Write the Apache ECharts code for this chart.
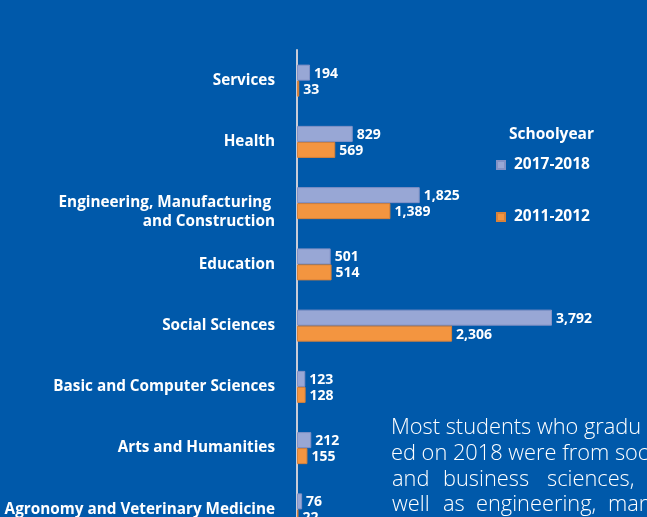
<!DOCTYPE html>
<html>
<head>
<meta charset="utf-8">
<script src="https://cdn.jsdelivr.net/npm/echarts@6/dist/echarts.min.js"></script>
<style>
html,body{margin:0;padding:0;background:#0059aa;}
#c{width:647px;height:517px;}
</style>
</head>
<body>
<div id="c"></div>
<script>
var categories = ['Services', 'Health', 'Engineering, Manufacturing \nand Construction', 'Education', 'Social Sciences', 'Basic and Computer Sciences', 'Arts and Humanities', 'Agronomy and Veterinary Medicine'];
var seriesNames = ['2017-2018', '2011-2012'];
var values2018 = [194, 829, 1825, 501, 3792, 123, 212, 76];
var values2012 = [33, 569, 1389, 514, 2306, 128, 155, 22];
var legendTitle = 'Schoolyear';
var noteLines = [
  [['Most students who gradu', 391]],
  [['ed on 2018 were from soc', 391]],
  [['and', 392], ['business', 443], ['sciences,', 547], ['as', 658]],
  [['well', 392], ['as', 443], ['engineering,', 476], ['man', 608]]
];

var FONT = '"Open Sans", "Noto Sans", sans-serif';
var chart = echarts.init(document.getElementById('c'), null, {renderer: 'canvas'});

function fmt(p) { return Number(p.value).toLocaleString('en-US'); }

var labelStyle = {
  show: true, position: 'right', distance: 4, color: '#ffffff',
  fontFamily: FONT, fontWeight: 'bold', fontSize: 14, formatter: fmt, offset: [0, 1]
};

var graphics = [
  {type: 'text', left: 509, top: 127, style: {text: legendTitle, fill: '#ffffff', font: 'bold 15.5px ' + FONT}}
];
noteLines.forEach(function (line, i) {
  line.forEach(function (w) {
    graphics.push({type: 'text', x: w[1], y: 417 + i * 25.7,
      style: {text: w[0], fill: '#ffffff', font: '300 21.8px ' + FONT}});
  });
});

chart.setOption({
  backgroundColor: '#0059aa',
  animation: false,
  grid: {left: 297, width: 269, top: 50, height: 490, containLabel: false, outerBoundsMode: 'none'},
  xAxis: {
    type: 'value', min: 0, max: 4000, show: false
  },
  yAxis: {
    type: 'category', inverse: true, data: categories,
    axisLine: {show: true, lineStyle: {color: '#c9ccd8', width: 2}},
    axisTick: {show: false},
    splitLine: {show: false},
    axisLabel: {
      color: '#ffffff', fontFamily: FONT, fontWeight: 'bold', fontSize: 15.3,
      margin: 22, align: 'right', lineHeight: 19,
      formatter: function (v) { return v.indexOf('\n') >= 0 ? ' \n' + v : v; }
    }
  },
  legend: {
    data: seriesNames, orient: 'vertical', left: 496, top: 157, padding: 0,
    itemWidth: 8, itemHeight: 8, itemGap: 36, icon: 'rect',
    textStyle: {color: '#ffffff', fontFamily: FONT, fontWeight: 'bold', fontSize: 15.5, padding: [0, 0, 0, 4]}
  },
  graphic: graphics,
  series: [
    {
      name: seriesNames[0], type: 'bar', data: values2018, barWidth: 16, barGap: '0%',
      itemStyle: {color: '#98a7d5', borderColor: '#8392c6', borderWidth: 1},
      label: labelStyle
    },
    {
      name: seriesNames[1], type: 'bar', data: values2012, barWidth: 16, barGap: '0%',
      itemStyle: {color: '#f39540', borderColor: '#d8823a', borderWidth: 1},
      label: labelStyle
    }
  ]
});
</script>
</body>
</html>
